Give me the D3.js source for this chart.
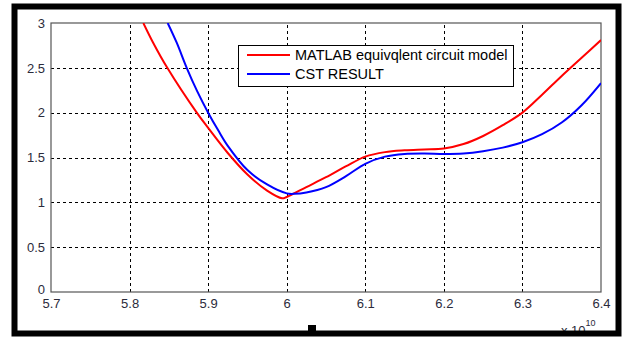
<!DOCTYPE html>
<html>
<head>
<meta charset="utf-8">
<script src="https://cdn.jsdelivr.net/npm/d3@7"></script>
<style>
  body { margin: 0; background: #fff; }
  svg { display: block; font-family: "Liberation Sans", Arial, sans-serif; }
</style>
</head>
<body>
<svg id="chart"></svg>
<script>
const width = 625;
const height = 338;

// --- data (frequency in units of 1e10 Hz) ---
const xTicks = [5.7, 5.8, 5.9, 6, 6.1, 6.2, 6.3, 6.4];
const yTicks = [0, 0.5, 1, 1.5, 2, 2.5, 3];

const matlabFreq = [5.8175, 5.83, 5.848, 5.8855, 5.9, 5.925, 5.95, 5.975, 5.994, 6.0, 6.025, 6.05, 6.075, 6.1, 6.125, 6.15, 6.175, 6.2, 6.225, 6.25, 6.275, 6.3, 6.325, 6.35, 6.375, 6.4];
const matlabVal  = [3.0, 2.78, 2.5, 2.0, 1.83, 1.55, 1.31, 1.13, 1.045, 1.06, 1.17, 1.28, 1.40, 1.51, 1.56, 1.58, 1.59, 1.60, 1.65, 1.74, 1.86, 2.0, 2.2, 2.41, 2.61, 2.81];

const cstFreq = [5.8485, 5.86, 5.8727, 5.886, 5.9, 5.913, 5.925, 5.95, 5.975, 6.0, 6.01, 6.025, 6.05, 6.075, 6.1, 6.125, 6.15, 6.175, 6.2, 6.225, 6.25, 6.275, 6.3, 6.325, 6.35, 6.375, 6.4];
const cstVal  = [3.0, 2.78, 2.5, 2.24, 2.0, 1.8, 1.63, 1.36, 1.2, 1.10, 1.095, 1.11, 1.17, 1.29, 1.43, 1.51, 1.54, 1.545, 1.54, 1.545, 1.57, 1.61, 1.67, 1.76, 1.89, 2.08, 2.33];

const seriesNames = ["MATLAB equivqlent circuit model", "CST RESULT"];
const seriesColors = ["#ff0000", "#0000ff"];

const svg = d3.select("#chart")
  .attr("width", width)
  .attr("height", height);

// plot area
const margin = {left: 51, right: 24, top: 23, bottom: 46};
const x = d3.scaleLinear().domain([5.7, 6.4]).range([margin.left, width - margin.right]);
const y = d3.scaleLinear().domain([0, 3]).range([height - margin.bottom, margin.top]);

svg.append("defs").append("clipPath").attr("id", "plotClip")
  .append("rect")
  .attr("x", x(5.7)).attr("y", y(3))
  .attr("width", x(6.4) - x(5.7)).attr("height", y(0) - y(3));

// --- grid ---
const gGrid = svg.append("g");
gGrid.selectAll(".vgrid")
  .data(xTicks.slice(1, -1))
  .join("line")
  .attr("x1", d => Math.round(x(d)) + 0.5).attr("x2", d => Math.round(x(d)) + 0.5)
  .attr("y1", y(0)).attr("y2", y(3))
  .attr("stroke", "#000").attr("stroke-width", 1)
  .attr("stroke-dasharray", "3,3");
gGrid.selectAll(".hgrid")
  .data(yTicks.slice(1, -1))
  .join("line")
  .attr("x1", x(5.7)).attr("x2", x(6.4))
  .attr("y1", d => Math.round(y(d)) + 0.5).attr("y2", d => Math.round(y(d)) + 0.5)
  .attr("stroke", "#000").attr("stroke-width", 1)
  .attr("stroke-dasharray", "3,3");

// --- axes ---
const xAxis = d3.axisBottom(x).tickValues(xTicks).tickSize(0).tickPadding(7).tickFormat(d3.format("~g"));
const yAxis = d3.axisLeft(y).tickValues(yTicks).tickSize(0).tickPadding(6).tickFormat(d3.format("~g"));

const gx = svg.append("g")
  .attr("transform", `translate(0,${y(0)})`)
  .call(xAxis);
const gy = svg.append("g")
  .attr("transform", `translate(${x(5.7)},0)`)
  .call(yAxis);
[gx, gy].forEach(g => {
  g.select(".domain").remove();
  g.selectAll("text").attr("font-size", 13).attr("fill", "#2b2b3b")
    .attr("font-family", "'Liberation Sans', Arial, sans-serif");
});
// the "0" label sits just above the first x label, as in the original
gy.selectAll(".tick").filter(d => d === 0).select("text").attr("dy", "0.1em");

// axis box
svg.append("rect")
  .attr("x", x(5.7)).attr("y", y(3))
  .attr("width", x(6.4) - x(5.7)).attr("height", y(0) - y(3))
  .attr("fill", "none").attr("stroke", "#555").attr("stroke-width", 1.2);

// --- curves ---
const line = d3.line()
  .x(d => x(d[0]))
  .y(d => y(d[1]))
  .curve(d3.curveCatmullRom.alpha(0.5));

const series = [
  d3.zip(matlabFreq, matlabVal),
  d3.zip(cstFreq, cstVal)
];

svg.append("g").attr("clip-path", "url(#plotClip)")
  .selectAll("path")
  .data(series)
  .join("path")
  .attr("d", line)
  .attr("fill", "none")
  .attr("stroke", (d, i) => seriesColors[i])
  .attr("stroke-width", 2);

// --- legend ---
const gLegend = svg.append("g").attr("transform", "translate(238,45)");
gLegend.append("rect")
  .attr("x", 0.5).attr("y", 0.5)
  .attr("width", 275).attr("height", 41)
  .attr("fill", "#fff").attr("stroke", "#000").attr("stroke-width", 1);
seriesNames.forEach((name, i) => {
  gLegend.append("line")
    .attr("x1", 9).attr("x2", 52)
    .attr("y1", 10 + i * 19).attr("y2", 10 + i * 19)
    .attr("stroke", seriesColors[i]).attr("stroke-width", 2);
  gLegend.append("text")
    .attr("x", 57).attr("y", 15 + i * 19)
    .attr("font-size", 14.5).attr("fill", "#000")
    .text(name);
});

// --- exponent label ---
const expText = svg.append("text")
  .attr("x", 561).attr("y", 335)
  .attr("font-size", 13).attr("fill", "#2b2b3b");
expText.append("tspan").text("x 10");
expText.append("tspan").attr("dy", -9).attr("font-size", 9).text("10");

// --- outer frame ---
svg.append("rect")
  .attr("x", 14.5).attr("y", 6.5)
  .attr("width", 604).attr("height", 327)
  .attr("fill", "none").attr("stroke", "#000").attr("stroke-width", 6);
svg.append("rect")
  .attr("x", 308).attr("y", 325)
  .attr("width", 8).attr("height", 7)
  .attr("fill", "#000");
</script>
</body>
</html>
